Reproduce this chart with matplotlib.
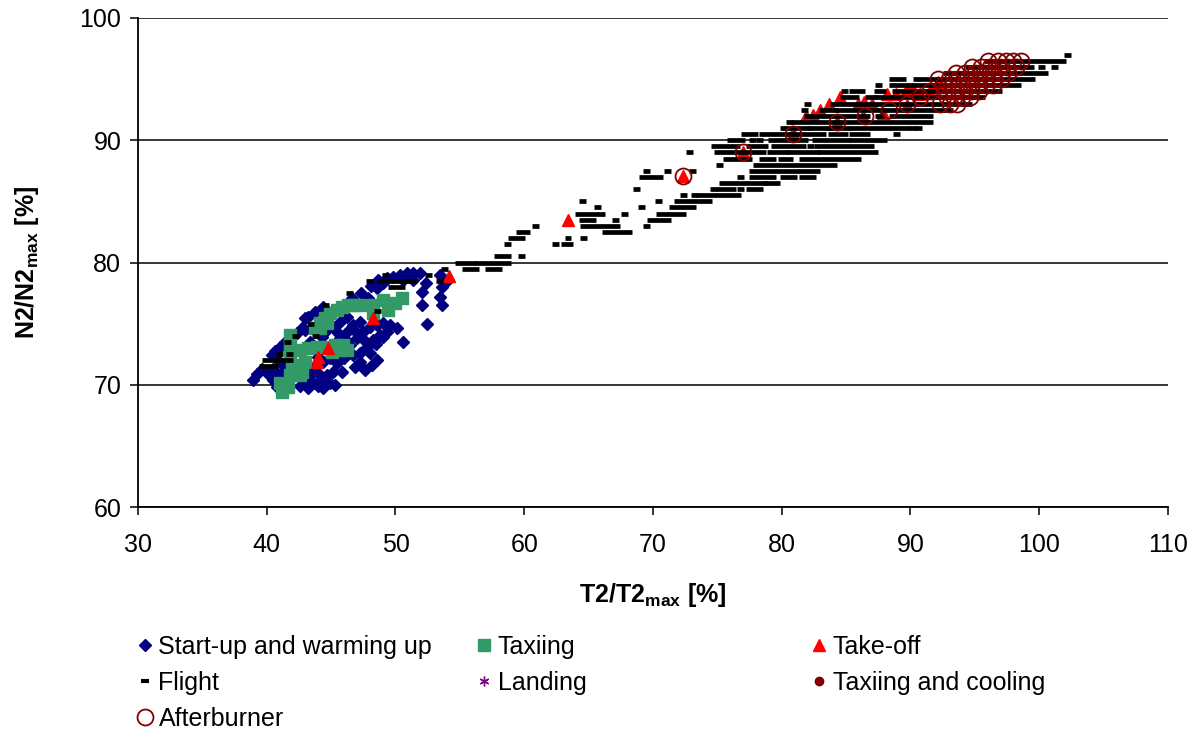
import matplotlib
matplotlib.use('Agg')
import matplotlib.pyplot as plt
from matplotlib.lines import Line2D

plt.rcParams['font.family'] = ['Liberation Sans', 'DejaVu Sans']

# Start-up and warming up (T2/T2max, N2/N2max)
startup_x = [38.96, 39.22, 39.6, 40.0, 40.38, 40.64, 41.03, 41.42, 41.81, 42.32, 42.71, 42.97, 43.23, 43.75, 44.40,
             40.51, 40.77, 41.03, 41.29, 40.51, 40.9, 43.10, 43.36, 43.62, 43.88, 44.14, 44.40, 44.66, 44.91, 45.17,
             45.30, 43.23, 42.97, 45.82, 46.86, 48.15, 47.63, 48.54, 44.40, 44.91, 45.43, 44.01, 43.6, 44.0, 42.6,
             45.69, 46.21, 46.73, 47.25, 46.47, 46.99, 47.51, 48.02, 48.54, 49.06, 49.58, 50.10, 49.32, 48.80, 48.28,
             47.77, 47.25, 46.73, 47.25, 48.02, 45.95, 45.17, 44.66, 45.69, 46.21, 47.0, 47.6, 48.5, 49.0, 46.2,
             45.5, 44.3, 43.9, 45.2, 46.0, 43.36, 42.97,
             46.60, 47.89, 48.54, 48.67, 49.32, 49.84, 50.36, 50.87, 51.39, 51.91, 49.06, 50.61, 51.39, 47.3, 48.1,
             52.04, 52.04, 53.59, 52.43, 50.61, 53.46, 53.59, 53.46, 54.11, 52.4]
startup_y = [70.38, 70.92, 71.3, 71.0, 72.43, 72.75, 73.11, 73.46, 73.79, 74.20, 74.61, 75.43, 75.56, 75.97, 76.38,
             70.38, 69.83, 70.79, 71.61, 71.33, 72.0, 71.61, 70.79, 70.11, 71.06, 70.38, 69.70, 70.79, 70.11, 71.06,
             69.97, 69.70, 70.38, 71.06, 71.47, 71.61, 71.20, 72.02, 71.88, 72.15, 71.74, 72.29, 71.4, 69.9, 69.9,
             73.79, 74.34, 74.88, 75.15, 73.24, 73.79, 74.34, 74.74, 74.88, 75.02, 74.88, 74.61, 74.34, 74.06, 73.65,
             73.11, 72.56, 72.43, 71.88, 72.56, 72.97, 74.74, 74.47, 75.15, 75.56, 74.2, 73.6, 73.3, 73.9, 73.6,
             74.2, 73.9, 74.3, 72.5, 72.2, 73.52, 74.47,
             77.06, 77.06, 77.88, 78.56, 78.70, 78.84, 78.97, 79.11, 79.11, 79.11, 78.29, 78.56, 78.56, 77.5, 78.1,
             77.61, 76.52, 76.52, 74.93, 73.52, 78.97, 78.02, 77.20, 78.56, 78.3]

# Taxiing
taxi_x = [41.81, 41.81, 41.81, 41.94, 41.81, 41.03, 41.16, 41.68, 42.71, 42.97, 42.58,
          42.58, 43.23, 43.88, 44.66, 45.30, 45.95, 46.21, 45.69, 45.04,
          43.75, 44.14, 44.53, 44.91, 45.43, 45.82, 46.34, 46.86, 47.25, 44.14, 44.66,
          48.28, 48.28, 49.06, 49.45, 49.97, 50.48]
taxi_y = [74.06, 73.38, 72.56, 71.61, 70.79, 70.11, 69.42, 69.83, 71.06, 71.88, 70.79,
          72.83, 72.97, 73.11, 73.11, 73.24, 73.24, 72.83, 72.83, 72.70,
          74.61, 75.02, 75.43, 75.83, 76.11, 76.38, 76.52, 76.52, 76.52, 74.61, 75.02,
          76.52, 75.83, 76.93, 76.11, 76.65, 77.06]

# Take-off
takeoff_x = [43.93, 44.0, 44.79, 48.23, 54.19, 63.4, 72.3, 77.0, 80.9, 81.9, 82.4, 83.0, 83.7, 84.5,
             84.3, 86.3, 85.9, 86.4, 87.0, 87.9, 88.2, 88.9, 89.7, 90.2, 89.7, 90.7, 92.1, 91.5]
takeoff_y = [71.9, 72.3, 72.97, 75.48, 78.92, 83.5, 87.1, 89.0, 90.6, 92.0, 92.1, 92.5, 93.0, 93.5,
             91.5, 92.0, 93.0, 93.1, 93.0, 92.2, 93.8, 93.8, 94.2, 94.2, 92.9, 93.8, 94.8, 94.0]

# Flight: runs of consecutive samples at one N2 level (x0 == x1 for a single sample)
flight_y = [71.5, 72.0, 72.5, 72.5, 73.5, 74.0, 74.0, 75.0, 76.0, 76.5, 77.5,
            78.0, 78.5, 78.5, 78.5, 78.5, 79.0, 79.0, 79.5, 79.5, 79.5,
            80.0, 80.0, 80.5, 80.5, 81.5, 81.5, 81.5, 82.0, 82.0, 82.0,
            82.5, 82.5, 83.0, 83.0, 83.0, 83.0, 83.5, 83.5, 83.5,
            84.0, 84.0, 84.0, 84.5, 84.5, 84.5, 85.0, 85.0, 85.0,
            85.5, 85.5, 85.5, 86.0, 86.0, 86.0, 86.0, 86.0,
            86.5, 86.5, 87.0, 87.0, 87.0, 87.0, 87.0,
            87.5, 87.5, 87.5, 87.5, 88.0, 88.0,
            88.5, 88.5, 88.5, 88.5, 89.0, 89.0, 89.0, 89.0, 89.0,
            89.5, 89.5, 89.5, 89.5, 89.5, 90.0, 90.0, 90.0, 90.0, 90.0, 90.0,
            90.5, 90.5, 90.5, 90.5, 90.5, 91.0, 91.0, 91.0, 91.0, 91.0, 91.0, 91.0,
            91.5, 91.5, 92.0, 92.0, 92.0, 92.0, 92.5, 92.5, 92.5,
            93.0, 93.0, 93.0, 93.5, 93.5, 93.5, 94.0, 94.0, 94.0, 94.0,
            94.5, 94.5, 95.0, 95.0, 95.5, 96.0, 96.0, 96.0, 96.5, 97.0]
flight_x0 = [39.7, 39.9, 41.0, 41.8, 41.6, 42.2, 43.8, 43.4, 48.6, 44.6, 46.4,
             49.7, 48.0, 48.8, 51.4, 53.4, 49.2, 52.6, 53.8, 55.4, 57.2,
             54.9, 56.4, 57.9, 59.8, 58.7, 62.4, 63.1, 59.0, 63.4, 64.6,
             59.6, 66.3, 60.9, 64.6, 67.2, 69.5, 64.5, 67.1, 69.8,
             64.2, 67.8, 70.5, 65.7, 69.1, 71.5, 64.5, 70.4, 71.9,
             72.4, 73.2, 73.6, 68.7, 74.7, 75.2, 76.8, 77.5,
             75.4, 78.8, 69.2, 76.8, 77.7, 80.1, 81.6,
             69.5, 71.1, 73.1, 77.7, 75.2, 78.0,
             75.7, 78.5, 80.0, 81.6, 72.8, 75.0, 79.1, 80.6, 83.0,
             74.8, 77.5, 79.4, 82.2, 82.8, 76.0, 77.7, 78.3, 79.2, 82.6, 85.5,
             77.1, 78.5, 83.9, 85.5, 88.9, 80.1, 82.3, 83.9, 85.5, 88.6, 90.2, 90.6,
             80.6, 81.0, 82.0, 82.7, 87.5, 88.6, 81.8, 83.2, 84.4,
             82.0, 84.0, 86.2, 84.8, 86.7, 87.4, 84.9, 85.5, 87.4, 88.8,
             87.5, 88.6, 88.6, 90.5, 92.8, 94.5, 100.2, 101.2, 96.0, 102.2]
flight_x1 = [40.6, 41.8, 41.0, 41.8, 41.6, 42.2, 43.8, 43.4, 48.6, 44.6, 46.4,
             50.5, 48.0, 51.0, 51.4, 53.4, 49.2, 52.6, 53.8, 56.2, 58.0,
             56.0, 58.7, 58.7, 59.8, 58.7, 62.4, 63.5, 59.8, 63.4, 64.6,
             60.2, 68.1, 60.9, 66.7, 67.2, 69.5, 65.3, 67.1, 71.1,
             66.0, 67.8, 72.3, 65.7, 69.1, 73.1, 64.5, 70.4, 74.3,
             72.4, 73.2, 76.6, 68.7, 74.7, 76.2, 76.8, 78.3,
             78.7, 79.6, 70.5, 76.8, 79.3, 80.9, 82.4,
             69.5, 71.1, 73.1, 82.7, 75.2, 84.0,
             77.4, 79.3, 80.6, 85.9, 72.8, 78.5, 80.3, 82.7, 87.2,
             76.5, 78.7, 81.6, 82.2, 86.9, 76.9, 77.7, 78.3, 81.8, 85.1, 87.9,
             77.9, 83.2, 84.9, 86.6, 88.9, 82.0, 83.7, 85.1, 88.2, 89.8, 90.2, 90.6,
             80.6, 91.5, 82.4, 86.6, 87.7, 91.5, 81.8, 84.1, 93.0,
             82.0, 85.7, 94.5, 85.7, 87.1, 95.5, 84.9, 86.2, 87.8, 96.8,
             87.5, 98.3, 89.4, 99.4, 100.4, 99.3, 100.2, 101.2, 101.8, 102.2]

# Landing / Taxiing and cooling: no visible samples
landing_x, landing_y = [], []
cooling_x, cooling_y = [], []

# Afterburner
after_x = [72.3, 77.0, 80.9, 84.3, 86.5, 88.3, 89.7, 90.7,
           92.3, 93.1, 93.6,
           92.8, 93.4, 94.0, 94.6,
           91.5, 92.6, 93.3, 94.0, 94.7, 95.3,
           92.5, 93.2, 93.8, 94.5, 95.2, 95.9, 96.4,
           92.1, 93.0, 93.7, 94.4, 95.1, 95.8, 96.5, 97.0,
           93.5, 94.2, 95.0, 95.7, 96.4, 97.1, 97.6,
           94.8, 95.5, 96.2, 96.9, 97.5, 98.2,
           96.0, 96.8, 97.4, 98.0, 98.6]
after_y = [87.1, 89.0, 90.5, 91.5, 92.0, 92.5, 93.0, 93.5,
           93.0, 93.0, 93.0,
           93.5, 93.5, 93.5, 93.5,
           94.0, 94.0, 94.0, 94.0, 94.0, 94.0,
           94.5, 94.5, 94.5, 94.5, 94.5, 94.5, 94.5,
           95.0, 95.0, 95.0, 95.0, 95.0, 95.0, 95.0, 95.0,
           95.5, 95.5, 95.5, 95.5, 95.5, 95.5, 95.5,
           96.0, 96.0, 96.0, 96.0, 96.0, 96.0,
           96.5, 96.5, 96.5, 96.5, 96.5]

DASH = 0.27  # half width of a flight marker, in % units

fig = plt.figure(figsize=(12.03, 7.31), dpi=100)
ax = fig.add_axes([0.1147, 0.3064, 0.8562, 0.6690])

h_start, = ax.plot(startup_x, startup_y, ls='none', marker='D', ms=6.5, color='#000080', zorder=2)
h_taxi, = ax.plot(taxi_x, taxi_y, ls='none', marker='s', ms=8.5, color='#339966', zorder=3)
h_take, = ax.plot(takeoff_x, takeoff_y, ls='none', marker='^', ms=8.5, color='#ff0000', zorder=4)
ax.hlines(flight_y, [x - DASH for x in flight_x0], [x + DASH for x in flight_x1],
          colors='black', lw=3.4, zorder=5)
h_land, = ax.plot(landing_x, landing_y, ls='none', marker=(6, 2, 0), ms=7, mew=1, color='#800080', zorder=5)
h_cool, = ax.plot(cooling_x, cooling_y, ls='none', marker='o', ms=6, color='#800000', zorder=5)
h_after, = ax.plot(after_x, after_y, ls='none', marker='o', ms=11.5, mfc='none', mec='#800000', mew=1.3, zorder=6)
h_flight = Line2D([], [], ls='none', marker='_', ms=6, mew=3, color='black')

ax.set_xlim(30, 110)
ax.set_ylim(60, 100)
ax.set_xticks(range(30, 111, 10))
ax.set_yticks(range(60, 101, 10))
ax.grid(axis='y', color='black', lw=1.1)
ax.set_axisbelow(True)
for side in ['top', 'right']:
    ax.spines[side].set_visible(False)
ax.spines['left'].set_linewidth(1.3)
ax.spines['bottom'].set_linewidth(1.3)
ax.tick_params(direction='out', length=6, width=1.1, labelsize=18)
ax.tick_params(axis='x', pad=13)
ax.tick_params(axis='y', pad=6)

ax.set_xlabel(r'T2/T2$_\mathregular{max}$ [%]', fontsize=18, fontweight='bold', labelpad=17)
ax.set_ylabel(r'N2/N2$_\mathregular{max}$ [%]', fontsize=18, fontweight='bold', labelpad=28)

leg_kw = dict(loc='upper left', frameon=False, fontsize=18, handlelength=0.8, handletextpad=0.15,
              labelspacing=0.48, borderpad=0, borderaxespad=0)
fig.legend([h_start, h_flight, h_after], ['Start-up and warming up', 'Flight', 'Afterburner'],
           bbox_to_anchor=(0.112, 0.132), **leg_kw)
fig.legend([h_taxi, h_land], ['Taxiing', 'Landing'], bbox_to_anchor=(0.394, 0.132), **leg_kw)
fig.legend([h_take, h_cool], ['Take-off', 'Taxiing and cooling'], bbox_to_anchor=(0.6725, 0.132), **leg_kw)

plt.savefig('out.png', dpi=100)
plt.close(fig)
